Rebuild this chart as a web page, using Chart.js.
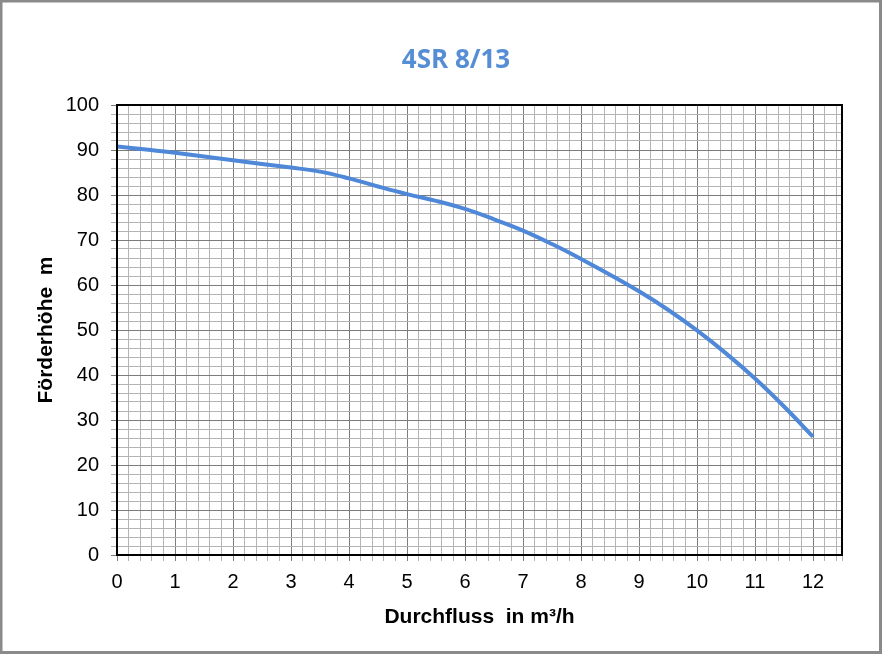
<!DOCTYPE html>
<html>
<head>
<meta charset="utf-8">
<title>4SR 8/13</title>
<script src="https://cdn.jsdelivr.net/npm/chart.js@4.4.1/dist/chart.umd.min.js"></script>
<style>
    html, body { margin: 0; padding: 0; background: #fff; }
    canvas { display: block; }
</style>
</head>
<body>
<canvas id="pumpChart" width="882" height="654"></canvas>
<script>
// Kennlinie
const flowValues = [0, 0.5, 1, 2, 3, 3.5, 4, 4.5, 5, 5.5, 6, 6.5, 7, 7.5, 8, 8.5, 9, 9.5, 10, 10.5, 11, 11.5, 12];
const headValues = [90.8, 90.1, 89.4, 87.7, 86.1, 85.2, 83.7, 81.9, 80.2, 78.7, 76.9, 74.6, 72.1, 69.1, 65.8, 62.3, 58.6, 54.5, 49.9, 44.8, 39.2, 33.0, 26.3];

const xTickLabels = ["0", "1", "2", "3", "4", "5", "6", "7", "8", "9", "10", "11", "12"];
const yTickLabels = ["0", "10", "20", "30", "40", "50", "60", "70", "80", "90", "100"];

const chartTitle = "4SR 8/13";
const xTitle = "Durchfluss  in m³/h";
const yTitle = "Förderhöhe  m";

/* ------------------- helpers ------------------ */

function isWhole(v) {
    return Math.abs(v - Math.round(v)) < 1e-6;
}

// minor grid: x every 0.2, y every 2
function buildXTicks(scale) {
    const ticks = [];
    for (let k = 0; k <= 62; k++) ticks.push({ value: k / 5 });
    ticks.push({ value: 12.5 });
    scale.ticks = ticks;
}
function buildYTicks(scale) {
    const ticks = [];
    for (let k = 0; k <= 50; k++) ticks.push({ value: k * 2 });
    scale.ticks = ticks;
}

function gridColor(ctx, majorStep) {
    const v = ctx.tick ? ctx.tick.value : 0;
    return isWhole(v / majorStep) ? "#7c7c7c" : "#b3b3b3";
}

// background, plot frame, outer border and the title (it sits left of centre in the original)
const frame = {
    id: "frame",
    beforeDraw(chart) {
        const c = chart.ctx;
        c.save();
        c.fillStyle = "#ffffff";
        c.fillRect(0, 0, chart.width, chart.height);
        c.restore();
    },
    afterDraw(chart) {
        const c = chart.ctx;
        const a = chart.chartArea;
        c.save();
        c.strokeStyle = "#000000";
        c.lineWidth = 2;
        c.strokeRect(a.left, a.top, a.right - a.left, a.bottom - a.top);
        c.strokeStyle = "#8a8a8a";
        c.lineWidth = 3;
        c.strokeRect(1, 1, chart.width - 2.5, chart.height - 2.5);

        c.fillStyle = "#558ed5";
        c.font = "bold 26px 'Open Sans', sans-serif";
        c.textAlign = "center";
        c.textBaseline = "middle";
        c.fillText(chartTitle, 456, 61);
        c.restore();
    }
};

/* ------------------- chart ------------------ */

const tickFont = { family: "'Liberation Sans', Arial, sans-serif", size: 20 };
const titleFont = { family: "'Liberation Sans', Arial, sans-serif", size: 21, weight: "bold" };

new Chart(document.getElementById("pumpChart"), {
    type: "line",
    data: {
        datasets: [{
            data: flowValues.map((x, i) => ({ x, y: headValues[i] })),
            borderColor: "#4f88d8",
            borderWidth: 4,
            pointRadius: 0,
            tension: 0.4,
            fill: false
        }]
    },
    options: {
        responsive: false,
        animation: false,
        devicePixelRatio: 1,
        layout: { padding: { left: 0, right: 40, top: 105, bottom: 0 } },
        plugins: {
            legend: { display: false },
            tooltip: { enabled: false },
            title: { display: false }
        },
        scales: {
            x: {
                type: "linear",
                min: 0,
                max: 12.5,
                afterBuildTicks: buildXTicks,
                afterFit: (s) => { s.height = 99; },
                border: { color: "#000000", width: 2 },
                grid: {
                    color: (ctx) => gridColor(ctx, 1),
                    tickColor: (ctx) => gridColor(ctx, 1),
                    tickLength: 6,
                    lineWidth: 1
                },
                ticks: {
                    autoSkip: false,
                    maxRotation: 0,
                    padding: 9,
                    color: "#000000",
                    font: tickFont,
                    callback: (v) => isWhole(v) && v <= 12 ? xTickLabels[Math.round(v)] : ""
                },
                title: {
                    display: true,
                    text: xTitle,
                    color: "#000000",
                    font: titleFont,
                    padding: { top: 0, bottom: 24.4 }
                }
            },
            y: {
                type: "linear",
                min: 0,
                max: 100,
                afterBuildTicks: buildYTicks,
                afterFit: (s) => { s.width = 117; },
                border: { color: "#000000", width: 2 },
                grid: {
                    color: (ctx) => gridColor(ctx, 10),
                    tickColor: (ctx) => gridColor(ctx, 10),
                    tickLength: 6,
                    lineWidth: 1
                },
                ticks: {
                    autoSkip: false,
                    padding: 12,
                    color: "#000000",
                    font: tickFont,
                    callback: (v) => isWhole(v / 10) ? yTickLabels[Math.round(v / 10)] : ""
                },
                title: {
                    display: true,
                    text: yTitle,
                    color: "#000000",
                    font: titleFont,
                    padding: { top: 34, bottom: 0 }
                }
            }
        }
    },
    plugins: [frame]
});
</script>
</body>
</html>
